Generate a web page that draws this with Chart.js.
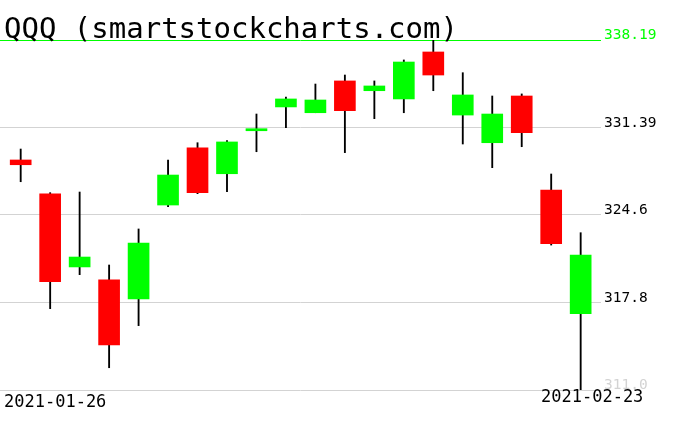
<!DOCTYPE html>
<html>
<head>
<meta charset="utf-8">
<script src="https://cdn.jsdelivr.net/npm/chart.js@4/dist/chart.umd.min.js"></script>
<style>
  html,body{margin:0;padding:0;background:#fff;}
  #c{display:block;}
</style>
</head>
<body>
<canvas id="c" width="676" height="431"></canvas>
<script>
'use strict';
/* ---------- data (QQQ daily) ---------- */
const dates  = ['2021-01-26','2021-01-27','2021-01-28','2021-01-29','2021-02-01','2021-02-02','2021-02-03',
                '2021-02-04','2021-02-05','2021-02-08','2021-02-09','2021-02-10','2021-02-11','2021-02-12',
                '2021-02-16','2021-02-17','2021-02-18','2021-02-19','2021-02-22','2021-02-23'];
const opens  = [328.87,326.23,320.56,319.55,318.07,325.37,329.82,327.80,331.14,332.99,
                332.54,335.01,334.25,333.61,337.26,332.36,330.21,333.84,326.54,316.93];
const highs  = [329.72,326.33,326.38,320.71,323.51,328.87,330.21,330.37,332.44,333.76,
                334.77,335.47,335.01,336.64,338.19,335.65,333.84,334.00,327.78,323.22];
const lows   = [327.18,317.32,319.96,312.73,316.00,325.24,326.25,326.41,329.51,331.38,
                332.54,329.44,332.08,332.54,334.25,330.11,328.27,329.90,322.26,311.00];
const closes = [328.50,319.41,321.33,314.50,322.42,327.70,326.33,330.27,331.30,333.61,
                333.53,332.70,334.62,336.48,335.47,333.92,332.44,330.99,322.37,321.49];

const yTicks      = [311.0, 317.8, 324.6, 331.39, 338.19];
const yTickLabels = ['311.0','317.8','324.6','331.39','338.19'];
const title = 'QQQ (smartstockcharts.com)';

/* ---------- colours ---------- */
const UP = '#00ff00', DOWN = '#ff0000', GRID = '#d3d3d3';

const wicks  = dates.map((d,i)=>({x:i, y:[lows[i], highs[i]]}));
const bodies = dates.map((d,i)=>({x:i, y:[opens[i], closes[i]]}));
const bodyColors = dates.map((d,i)=> closes[i] >= opens[i] ? UP : DOWN);

// title + first/last date, drawn on top of the plot
const textPlugin = {
  id:'texts',
  afterDraw(chart){
    const ctx = chart.ctx;
    ctx.save();
    ctx.fillStyle = '#000';
    ctx.textAlign = 'left';
    ctx.textBaseline = 'alphabetic';
    ctx.font = '29px "DejaVu Sans Mono"';
    ctx.fillText(title, 4, 38);
    ctx.font = '17px "DejaVu Sans Mono"';
    ctx.fillText(dates[0], 4, 407);
    ctx.fillText(dates[dates.length-1], 541, 402);
    ctx.restore();
  }
};

new Chart(document.getElementById('c'), {
  type:'bar',
  data:{
    datasets:[
      {data:wicks, backgroundColor:'#000', barThickness:1.2, grouped:false, order:2, borderWidth:0},
      {data:bodies, backgroundColor:bodyColors, barThickness:21, grouped:false, order:1, borderWidth:0}
    ]
  },
  options:{
    responsive:false,
    animation:false,
    layout:{padding:{top:40, bottom:41, left:0, right:0}},
    plugins:{legend:{display:false}, tooltip:{enabled:false}},
    scales:{
      x:{type:'linear', display:false, offset:false, grid:{offset:false}, min:-0.702, max:19.69},
      y:{
        position:'right',
        min:yTicks[0], max:yTicks[yTicks.length-1],
        afterBuildTicks:s=>{ s.ticks = yTicks.map(v=>({value:v})); },
        afterFit:s=>{ s.width = 75; },
        border:{display:false},
        grid:{drawTicks:false, lineWidth:1,
              color:c=> c.index===yTicks.length-1 ? UP : GRID},
        ticks:{
          padding:3, labelOffset:-4.5,
          font:{family:'"DejaVu Sans Mono"', size:14.5},
          color:c=> c.index===yTicks.length-1 ? UP : (c.index===0 ? GRID : '#000'),
          callback:(v,i)=> yTickLabels[i]
        }
      }
    }
  },
  plugins:[textPlugin]
});
</script>
</body>
</html>
